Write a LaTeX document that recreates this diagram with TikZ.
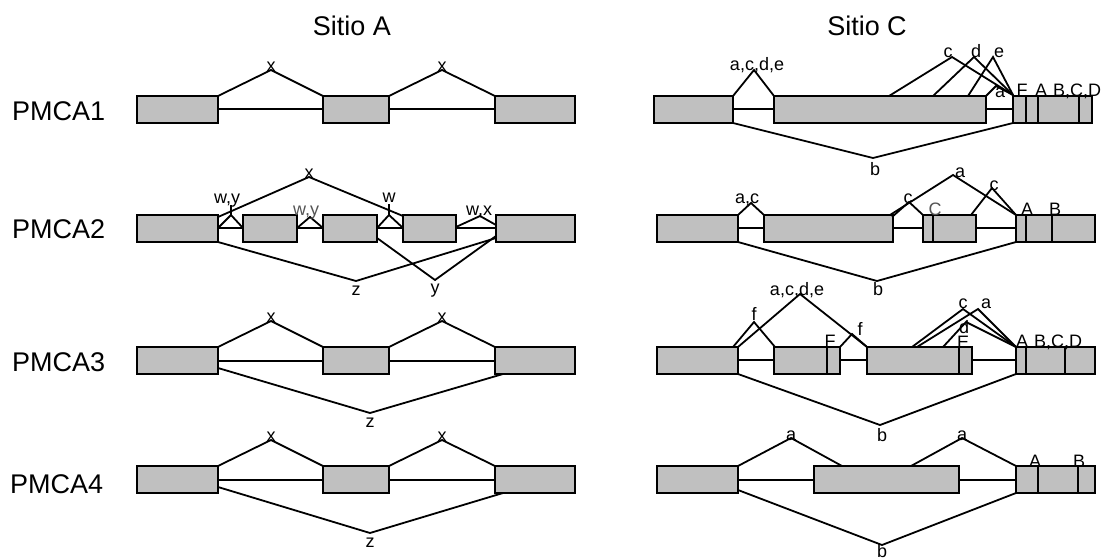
\documentclass[tikz,border=0pt]{standalone}
\usepackage{fontspec}
\setmainfont{Liberation Sans}
\definecolor{exongray}{RGB}{192,192,192}
\definecolor{labgray}{RGB}{85,85,85}
\tikzset{
  exon/.style={draw=black, fill=exongray, line width=2.2pt},
  divline/.style={draw=black, line width=1.8pt},
  intron/.style={draw=black, line width=2.4pt},
  splice/.style={draw=black, line width=1.8pt, line join=miter},
  lab/.style={font=\fontsize{18}{18}\selectfont, inner sep=0pt, anchor=base},
  biglab/.style={font=\fontsize{27}{27}\selectfont, inner sep=0pt, anchor=base},
}
\newcommand{\spl}[3]{\draw[splice] #1 -- #2 -- #3;}
\newcommand{\exonbox}[4]{\draw[exon] (#1,#2) rectangle (#3,#4);}
\newcommand{\divid}[3]{\draw[divline] (#1,#2) -- (#1,#3);}
\begin{document}
\begin{tikzpicture}[x=1pt,y=-1pt]
\useasboundingbox (0,0) rectangle (1102,557);

% titles
\node[biglab] (tA) at (352,35) {Sitio A};
\node[biglab] (tC) at (867,35) {Sitio C};
\node[biglab, anchor=base west] (p1) at (12,120) {PMCA1};
\node[biglab, anchor=base west] (p2) at (12,238) {PMCA2};
\node[biglab, anchor=base west] (p3) at (12,371) {PMCA3};
\node[biglab, anchor=base west] (p4) at (10,493) {PMCA4};

% ---------------- Sitio A ----------------
% introns
\draw[intron] (218,109) -- (495,109);
\draw[intron] (218,228) -- (496,228);
\draw[intron] (218,361) -- (495,361);
\draw[intron] (218,480) -- (495,480);
% PMCA1
\exonbox{137}{96}{218}{123}
\exonbox{323}{96}{389}{123}
\exonbox{495}{96}{575}{123}
\spl{(218,96)}{(271,70)}{(323,96)}
\spl{(389,96)}{(442,70)}{(495,96)}
\node[lab] (a1x1) at (271,71) {x};
\node[lab] (a1x2) at (442,71) {x};
% PMCA2
\exonbox{137}{215}{218}{242}
\exonbox{243}{215}{297}{242}
\exonbox{323}{215}{377}{242}
\exonbox{403}{215}{456}{242}
\exonbox{496}{215}{575}{242}
\spl{(218,217)}{(309,177)}{(403,216)}
\spl{(218,228)}{(231,215)}{(243,228)}
\draw[splice] (231,205) -- (231,215);
\spl{(297,228)}{(310,217)}{(323,228)}
\spl{(377,228)}{(389,215)}{(403,228)}
\draw[splice] (389,204) -- (389,215);
\spl{(456,227)}{(480,216)}{(496,225)}
\spl{(218,242)}{(356,281)}{(496,238)}
\spl{(377,238)}{(435,280)}{(496,236)}
\node[lab] (a2x) at (309,178) {x};
\node[lab] (a2wy1) at (227,203) {w,y};
\node[lab, text=labgray] (a2wy2) at (306,215) {w,y};
\node[lab] (a2w) at (389,202) {w};
\node[lab] (a2wx) at (479,215) {w,x};
\node[lab] (a2z) at (356,295) {z};
\node[lab] (a2y) at (435,293) {y};
% PMCA3
\exonbox{137}{347}{218}{374}
\exonbox{323}{347}{389}{374}
\exonbox{495}{347}{575}{374}
\spl{(218,347)}{(271,321)}{(323,347)}
\spl{(389,347)}{(442,321)}{(495,347)}
\spl{(218,368)}{(370,413)}{(503,374)}
\node[lab] (a3x1) at (271,322) {x};
\node[lab] (a3x2) at (442,322) {x};
\node[lab] (a3z) at (370,427) {z};
% PMCA4
\exonbox{137}{466}{218}{493}
\exonbox{323}{466}{389}{493}
\exonbox{495}{466}{575}{493}
\spl{(218,466)}{(271,440)}{(323,466)}
\spl{(389,466)}{(442,440)}{(495,466)}
\spl{(218,487)}{(370,533)}{(503,493)}
\node[lab] (a4x1) at (271,441) {x};
\node[lab] (a4x2) at (442,441) {x};
\node[lab] (a4z) at (370,547) {z};

% ---------------- Sitio C ----------------
\draw[intron] (733,109) -- (1013,109);
\draw[intron] (738,228) -- (1016,228);
\draw[intron] (738,360) -- (1016,360);
\draw[intron] (738,480) -- (1016,480);
% PMCA1
\exonbox{654}{96}{733}{123}
\exonbox{774}{96}{986}{123}
\exonbox{1013}{96}{1092}{123}
\divid{1026}{96}{123}
\divid{1038}{96}{123}
\divid{1079}{96}{123}
\spl{(733,96)}{(754,70)}{(774,96)}
\spl{(889,96)}{(952,57)}{(1013,95)}
\spl{(933,96)}{(974,57)}{(1013,95)}
\spl{(968,96)}{(993,57)}{(1013,95)}
\spl{(986,96)}{(996,86)}{(1013,95)}
\spl{(733,123)}{(873,158)}{(1013,123)}
\node[lab] (c1acde) at (757,70) {a,c,d,e};
\node[lab] (c1c) at (948,57) {c};
\node[lab] (c1d) at (976,57) {d};
\node[lab] (c1e) at (999,57) {e};
\node[lab] (c1a) at (1000,97) {a};
\node[lab] (c1F) at (1022,96) {F};
\node[lab] (c1A) at (1041,96) {A};
\node[lab] (c1BCD) at (1077,96) {B,C,D};
\node[lab] (c1b) at (875,175) {b};
% PMCA2
\exonbox{657}{215}{738}{242}
\exonbox{764}{215}{893}{242}
\exonbox{923}{215}{976}{242}
\exonbox{1016}{215}{1095}{242}
\divid{933}{215}{242}
\divid{1026}{215}{242}
\divid{1052}{215}{242}
\spl{(738,215)}{(751,203)}{(764,215)}
\spl{(892,217)}{(909,202)}{(923,215)}
\spl{(890,215)}{(953,175)}{(1016,215)}
\spl{(971,215)}{(992,188)}{(1016,215)}
\spl{(738,242)}{(877,281)}{(1016,242)}
\node[lab] (c2ac) at (747,203) {a,c};
\node[lab] (c2c1) at (908,203) {c};
\node[lab] (c2a) at (960,177) {a};
\node[lab] (c2c2) at (994,190) {c};
\node[lab, text=labgray] (c2C) at (935,215) {C};
\node[lab] (c2A) at (1027,215) {A};
\node[lab] (c2B) at (1055,215) {B};
\node[lab] (c2b) at (878,295) {b};
% PMCA3
\exonbox{657}{347}{738}{374}
\exonbox{774}{347}{840}{374}
\exonbox{867}{347}{972}{374}
\exonbox{1016}{347}{1095}{374}
\divid{827}{347}{374}
\divid{959}{347}{374}
\divid{1026}{347}{374}
\divid{1065}{347}{374}
\spl{(733,347)}{(754,322)}{(775,347)}
\spl{(738,347)}{(800,294)}{(867,347)}
\spl{(840,347)}{(852,334)}{(867,347)}
\spl{(912,347)}{(963,309)}{(1016,347)}
\spl{(917,347)}{(978,309)}{(1016,347)}
\spl{(943,347)}{(966,322)}{(1016,347)}
\spl{(738,374)}{(880,425)}{(1016,374)}
\node[lab] (c3acde) at (797,295) {a,c,d,e};
\node[lab] (c3f1) at (754,320) {f};
\node[lab] (c3f2) at (860,335) {f};
\node[lab] (c3F) at (830,347) {F};
\node[lab] (c3c) at (963,308) {c};
\node[lab] (c3a) at (986,308) {a};
\node[lab] (c3d) at (964,333) {d};
\node[lab] (c3E) at (963,348) {E};
\node[lab] (c3A) at (1022,347) {A};
\node[lab] (c3BCD) at (1058,347) {B,C,D};
\node[lab] (c3b) at (882,441) {b};
% PMCA4
\exonbox{657}{466}{738}{493}
\exonbox{814}{466}{959}{493}
\exonbox{1016}{466}{1095}{493}
\divid{1038}{466}{493}
\divid{1078}{466}{493}
\spl{(738,466)}{(791,438)}{(842,466)}
\spl{(911,466)}{(962,438)}{(1016,466)}
\spl{(738,490)}{(882,545)}{(1016,493)}
\node[lab] (c4a1) at (791,440) {a};
\node[lab] (c4a2) at (962,440) {a};
\node[lab] (c4A) at (1035,467) {A};
\node[lab] (c4B) at (1079,467) {B};
\node[lab] (c4b) at (882,557) {b};
\end{tikzpicture}
\end{document}
